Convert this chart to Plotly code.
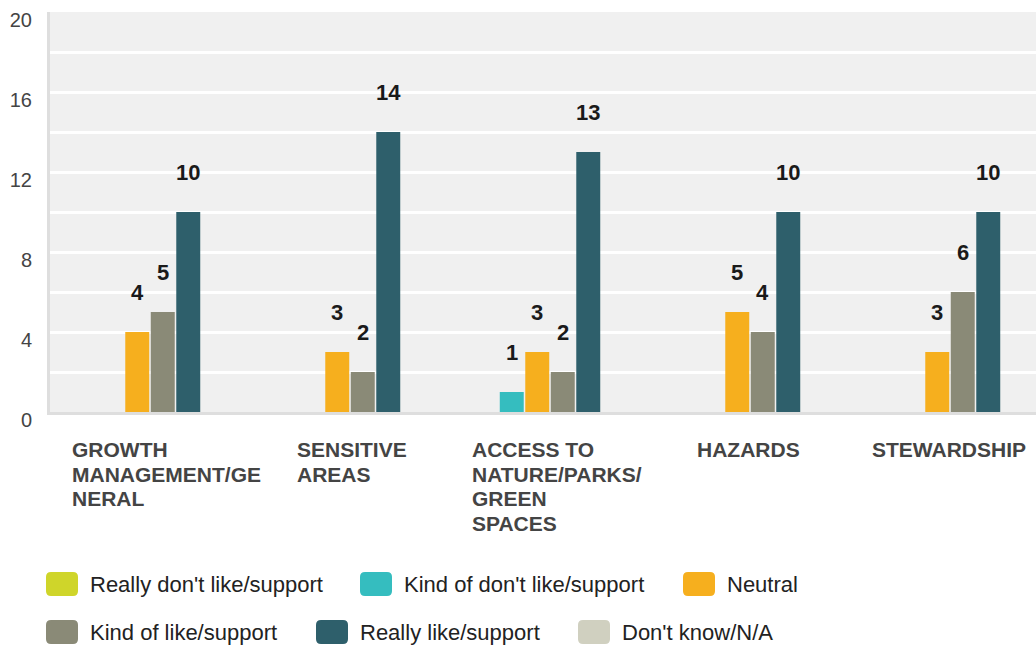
import plotly.graph_objects as go

# ---- data ----
categories = ["GROWTH MANAGEMENT/GENERAL", "SENSITIVE AREAS",
              "ACCESS TO NATURE/PARKS/GREEN SPACES", "HAZARDS", "STEWARDSHIP"]
# wrapped the way the reference wraps them
category_lines = [["GROWTH", "MANAGEMENT/GE", "NERAL"], ["SENSITIVE", "AREAS"],
                  ["ACCESS TO", "NATURE/PARKS/", "GREEN", "SPACES"], ["HAZARDS"],
                  ["STEWARDSHIP"]]
series_names = ["Really don't like/support", "Kind of don't like/support", "Neutral",
                "Kind of like/support", "Really like/support", "Don't know/N/A"]
really_dont = [0, 0, 0, 0, 0]
kind_dont = [0, 0, 1, 0, 0]
neutral = [4, 3, 3, 5, 3]
kind_like = [5, 2, 2, 4, 6]
really_like = [10, 14, 13, 10, 10]
dont_know = [0, 0, 0, 0, 0]
y_ticks = [0, 4, 8, 12, 16, 20]

# ---- styling ----
COLORS = ["#cfd52a", "#35bdbf", "#f6af1e", "#8a8a77", "#2e5f6b", "#d0d0c0"]
FONT = "Liberation Sans, Arial, sans-serif"
W, H = 1036, 645
PLOT_L, PLOT_T, PLOT_B = 50, 12, 412
GROUP_PX = 200          # pixels per category
SLOT_PX = 25.5          # pixels per bar slot in a group
LINE_PX = 24.5          # line spacing of the category labels
label_xshift = [-80, -55, -80, -55, -80]
legend_pos = [(46, 584), (360, 584), (683, 584), (46, 632), (316, 632), (578, 632)]

values = [really_dont, kind_dont, neutral, kind_like, really_like, dont_know]
n = len(series_names)

fig = go.Figure()
for name, vals, col in zip(series_names, values, COLORS):
    fig.add_trace(go.Bar(x=categories, y=vals, name=name, marker_color=col,
                         marker_line_width=0, showlegend=False))

plot_w = W - PLOT_L
plot_h = PLOT_B - PLOT_T
group_frac = n * SLOT_PX / GROUP_PX

ann = []
# value labels above bars (skip zeros)
for i, vals in enumerate(values):
    for c, v in zip(categories, vals):
        if v:
            ann.append(dict(x=c, y=v, text=f"<b>{v}</b>", showarrow=False,
                            xshift=(i - (n - 1) / 2) * SLOT_PX, yshift=40,
                            font=dict(size=22, color="#1a1a1a", family=FONT)))
# category labels, left aligned under each group, one annotation per line
for c, lines, xs in zip(categories, category_lines, label_xshift):
    for k, line in enumerate(lines):
        ann.append(dict(x=c, y=0, yref="paper", text=f"<b>{line}</b>", showarrow=False,
                        xanchor="left", yanchor="top", align="left", xshift=xs,
                        yshift=-24 - k * LINE_PX,
                        font=dict(size=21, color="#444444", family=FONT)))

# hand-drawn legend: rounded swatches + text
shapes = []
sw, sh, r = 32, 24, 5
path = (f"M {-sw/2 + r},{-sh/2} L {sw/2 - r},{-sh/2} Q {sw/2},{-sh/2} {sw/2},{-sh/2 + r} "
        f"L {sw/2},{sh/2 - r} Q {sw/2},{sh/2} {sw/2 - r},{sh/2} L {-sw/2 + r},{sh/2} "
        f"Q {-sw/2},{sh/2} {-sw/2},{sh/2 - r} L {-sw/2},{-sh/2 + r} Q {-sw/2},{-sh/2} {-sw/2 + r},{-sh/2} Z")
for name, col, (px, py) in zip(series_names, COLORS, legend_pos):
    xa = (px + sw / 2 - PLOT_L) / plot_w
    ya = (PLOT_B - py) / plot_h
    shapes.append(dict(type="path", xref="paper", yref="paper", xsizemode="pixel",
                       ysizemode="pixel", xanchor=xa, yanchor=ya, path=path,
                       fillcolor=col, line_width=0))
    ann.append(dict(x=(px + sw + 10 - PLOT_L) / plot_w, y=ya, xref="paper", yref="paper",
                    text=name, showarrow=False, xanchor="left", yanchor="middle",
                    font=dict(size=22, color="#222222", family=FONT)))

fig.update_layout(
    width=W, height=H,
    margin=dict(l=PLOT_L, r=0, t=PLOT_T, b=H - PLOT_B, pad=0),
    paper_bgcolor="white", plot_bgcolor="#f0f0f0",
    barmode="group", bargap=1 - group_frac, bargroupgap=0.06,
    font=dict(family=FONT, color="#444444"),
    annotations=ann, shapes=shapes, showlegend=False,
)
fig.update_xaxes(range=[-0.5, -0.5 + plot_w / GROUP_PX], showticklabels=False,
                 showgrid=False, showline=True, linecolor="#dedede", linewidth=3,
                 zeroline=False, fixedrange=True)
# tick labels sit just below their gridline in the reference
fig.update_yaxes(range=[0, 20], tickvals=y_ticks, ticks="", showgrid=True,
                 gridcolor="#ffffff", gridwidth=3,
                 minor=dict(dtick=2, showgrid=True, gridcolor="#ffffff", gridwidth=3),
                 showline=True, linecolor="#dedede", linewidth=3, zeroline=False,
                 tickfont=dict(size=20, color="#444444", family=FONT),
                 ticklabelshift=8, ticklabelstandoff=11, ticklabeloverflow="allow",
                 fixedrange=True)

# page body has a default 8px margin; drop it so the figure fills the window
fig.write_html("out.html", config={"displayModeBar": False},
               post_script="document.body.style.margin='0';")
